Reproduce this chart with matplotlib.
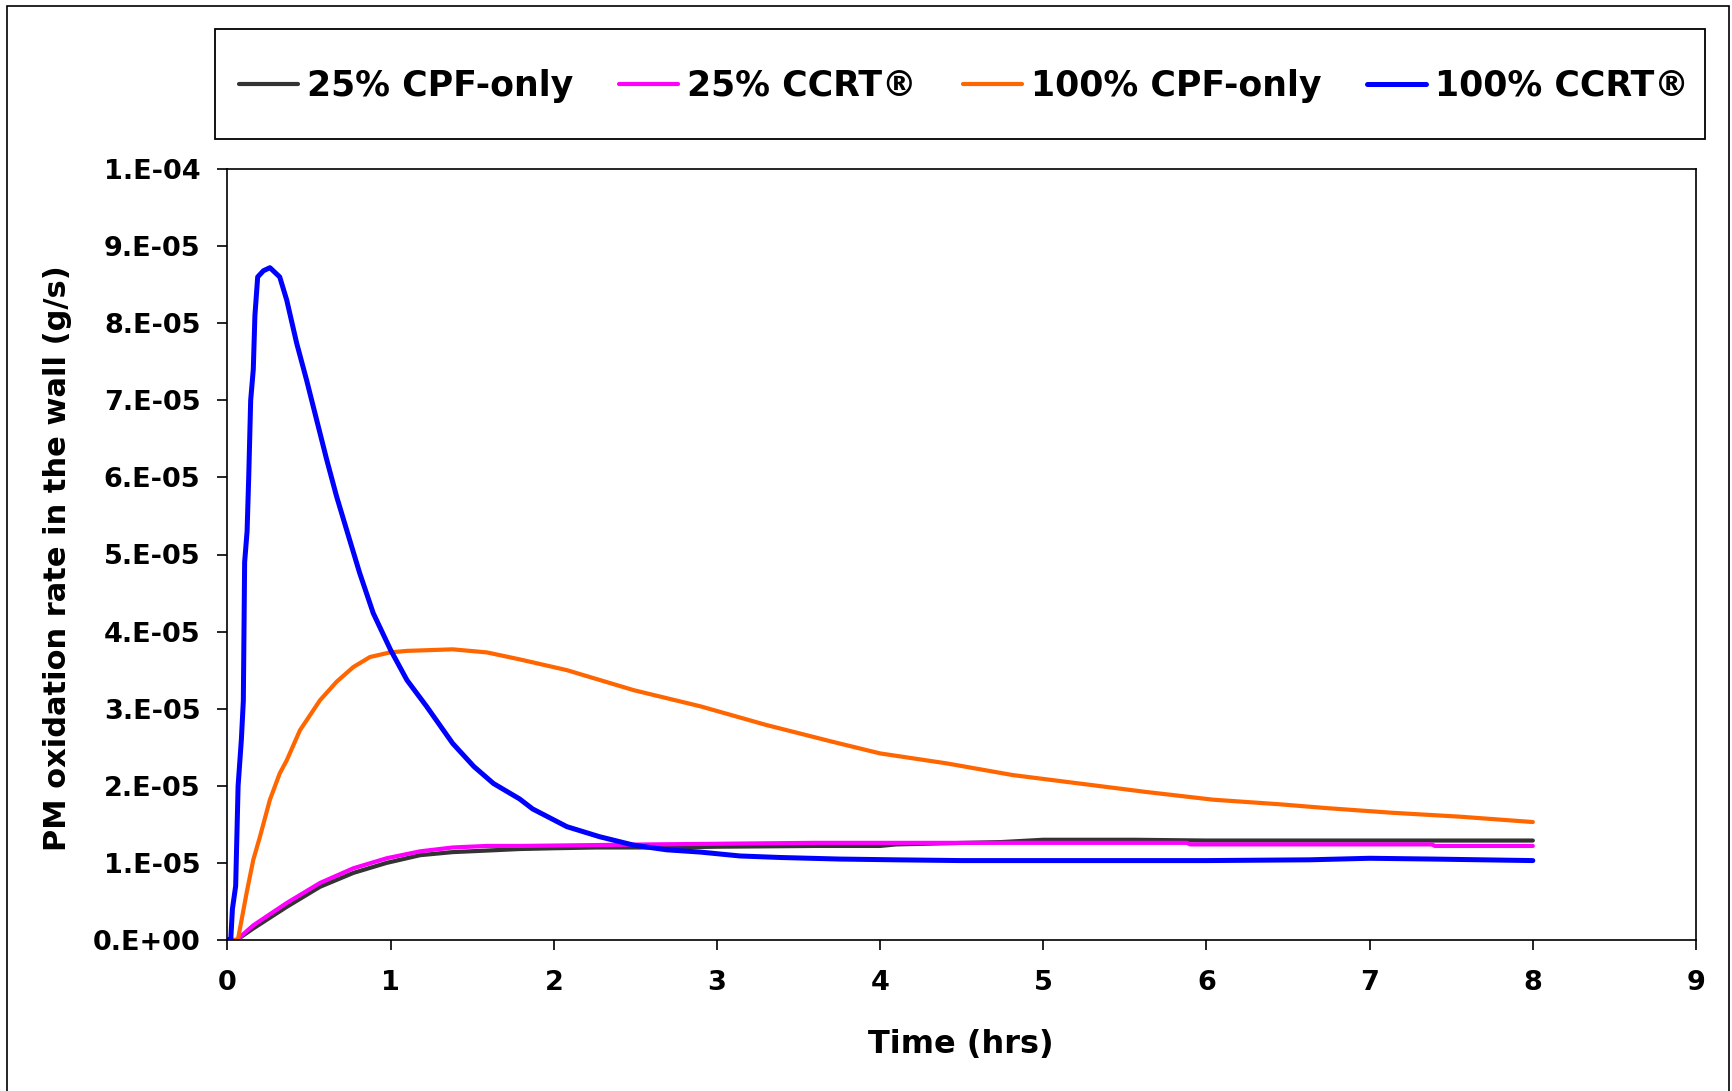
import matplotlib
matplotlib.use("Agg")
import matplotlib.pyplot as plt
from matplotlib.patches import Rectangle
from matplotlib.ticker import FixedLocator, FixedFormatter

plt.rcParams['font.family'] = ['DejaVu Sans']
plt.rcParams['font.weight'] = 'bold'

SCALE = 1e-5  # values below are in units of 1e-5 g/s

# 25% CPF-only
t_25cpf = [0, 0.056, 0.158, 0.363, 0.567, 0.771, 0.975, 1.18, 1.38, 1.59, 1.79, 2.0, 2.26,
           2.7, 3.0, 3.6, 4.0, 4.1, 4.74, 5.0, 5.55, 6.0, 7.0, 8.0]
v_25cpf = [0, 0, 0.15, 0.43, 0.69, 0.87, 1.00, 1.10, 1.14, 1.16, 1.18, 1.19, 1.20,
           1.20, 1.21, 1.22, 1.22, 1.24, 1.27, 1.30, 1.30, 1.29, 1.29, 1.29]

# 25% CCRT
t_25ccrt = [0, 0.056, 0.158, 0.363, 0.567, 0.771, 0.975, 1.18, 1.38, 1.59, 1.79, 2.0, 2.6,
            3.6, 4.0, 5.0, 5.88, 5.9, 7.38, 7.4, 8.0]
v_25ccrt = [0, 0, 0.19, 0.48, 0.74, 0.93, 1.06, 1.15, 1.20, 1.22, 1.22, 1.225, 1.24,
            1.26, 1.26, 1.26, 1.26, 1.24, 1.24, 1.22, 1.22]

# 100% CPF-only
t_100cpf = [0, 0.055, 0.066, 0.117, 0.158, 0.199, 0.26, 0.32, 0.363, 0.444, 0.567, 0.669,
            0.771, 0.873, 0.996, 1.10, 1.38, 1.59, 1.79, 2.08, 2.49, 2.90, 3.30, 3.71, 4.0,
            4.41, 4.81, 5.22, 5.63, 6.04, 6.45, 6.74, 7.14, 7.55, 8.0]
v_100cpf = [0, 0, 0.03, 0.61, 1.04, 1.34, 1.82, 2.16, 2.33, 2.72, 3.11, 3.35,
            3.54, 3.67, 3.73, 3.75, 3.77, 3.73, 3.64, 3.50, 3.24, 3.03, 2.79, 2.57, 2.42,
            2.29, 2.14, 2.03, 1.92, 1.82, 1.76, 1.71, 1.65, 1.60, 1.53]

# 100% CCRT
t_100ccrt = [0, 0.02, 0.03, 0.05, 0.065, 0.085, 0.097, 0.105, 0.12, 0.13, 0.142, 0.158,
             0.168, 0.185, 0.22, 0.26, 0.32, 0.363, 0.424, 0.485, 0.547, 0.608, 0.669,
             0.75, 0.81, 0.893, 1.0, 1.10, 1.22, 1.38, 1.51, 1.63, 1.79, 1.87, 2.08, 2.28,
             2.49, 2.69, 2.90, 3.14, 3.39, 3.75, 4.09, 4.5, 5.0, 5.5, 6.0, 6.63, 7.0, 7.38, 8.0]
v_100ccrt = [0, 0, 0.4, 0.7, 2.0, 2.6, 3.1, 4.9, 5.3, 6.0, 7.0, 7.4,
             8.1, 8.6, 8.68, 8.72, 8.6, 8.3, 7.74, 7.26, 6.74, 6.23, 5.75,
             5.18, 4.76, 4.24, 3.76, 3.37, 3.03, 2.55, 2.25, 2.03, 1.83, 1.70, 1.47, 1.34,
             1.23, 1.17, 1.14, 1.09, 1.07, 1.05, 1.04, 1.03, 1.03, 1.03, 1.03, 1.04, 1.06, 1.05, 1.03]

labels = ["25% CPF-only", "25% CCRT®", "100% CPF-only", "100% CCRT®"]
colors = ["#333333", "#FF00FF", "#FF6600", "#0000FF"]

xticks = [0, 1, 2, 3, 4, 5, 6, 7, 8, 9]
xtick_labels = ["0", "1", "2", "3", "4", "5", "6", "7", "8", "9"]
yticks = [0, 1, 2, 3, 4, 5, 6, 7, 8, 9, 10]
ytick_labels = ["0.E+00", "1.E-05", "2.E-05", "3.E-05", "4.E-05", "5.E-05",
                "6.E-05", "7.E-05", "8.E-05", "9.E-05", "1.E-04"]

W, H = 1733, 1091
fig = plt.figure(figsize=(W / 100, H / 100), dpi=100)
fig.patch.set_facecolor("white")

ax = fig.add_axes([227.5 / W, 1 - 940 / H, (1696 - 227.5) / W, (940 - 169) / H])

series = [(t_25cpf, v_25cpf), (t_25ccrt, v_25ccrt), (t_100cpf, v_100cpf), (t_100ccrt, v_100ccrt)]
widths = [3.0, 3.0, 3.0, 3.6]
handles = []
for (t, v), lab, c, lw in zip(series, labels, colors, widths):
    ln, = ax.plot(t, [x * SCALE for x in v], color=c, lw=lw, label=lab,
                  solid_joinstyle='round', solid_capstyle='round')
    handles.append(ln)

ax.set_xlim(0, 9)
ax.set_ylim(0, 10 * SCALE)
ax.xaxis.set_major_locator(FixedLocator(xticks))
ax.xaxis.set_major_formatter(FixedFormatter(xtick_labels))
ax.yaxis.set_major_locator(FixedLocator([y * SCALE for y in yticks]))
ax.yaxis.set_major_formatter(FixedFormatter(ytick_labels))

for s in ax.spines.values():
    s.set_linewidth(1.2)
    s.set_color("black")

ax.tick_params(axis='both', direction='out', length=7.5, width=1.2, labelsize=19.5, colors='black')
ax.tick_params(axis='y', pad=12)
ax.tick_params(axis='x', pad=14)

ax.set_xlabel("Time (hrs)", fontsize=23, fontweight='bold')
ax.set_ylabel("PM oxidation rate in the wall (g/s)", fontsize=22, fontweight='bold')
ax.xaxis.set_label_coords((961 - 227.5) / 1468.5, (940 - 1029) / 771)
ax.yaxis.set_label_coords((72 - 227.5) / 1468.5, (940 - 558.5) / 771)

# legend box
fig.add_artist(Rectangle((215.5 / W, 1 - 139 / H), (1705 - 215.5) / W, (139 - 28.7) / H,
                         transform=fig.transFigure, fill=False, ec='black', lw=1.3))
fig.legend(handles, labels, loc='center', bbox_to_anchor=(964 / W, 1 - 86 / H), ncol=4,
           frameon=False, fontsize=25, handlelength=1.7, handletextpad=0.25,
           columnspacing=1.33, borderpad=0, borderaxespad=0)

# outer border (no bottom edge)
fig.add_artist(Rectangle((7 / W, -0.05), (1729 - 7) / W, 1.05 - 6 / H,
                         transform=fig.transFigure, fill=False, ec='black', lw=1.2))

fig.savefig("out.png", dpi=100, facecolor='white')
